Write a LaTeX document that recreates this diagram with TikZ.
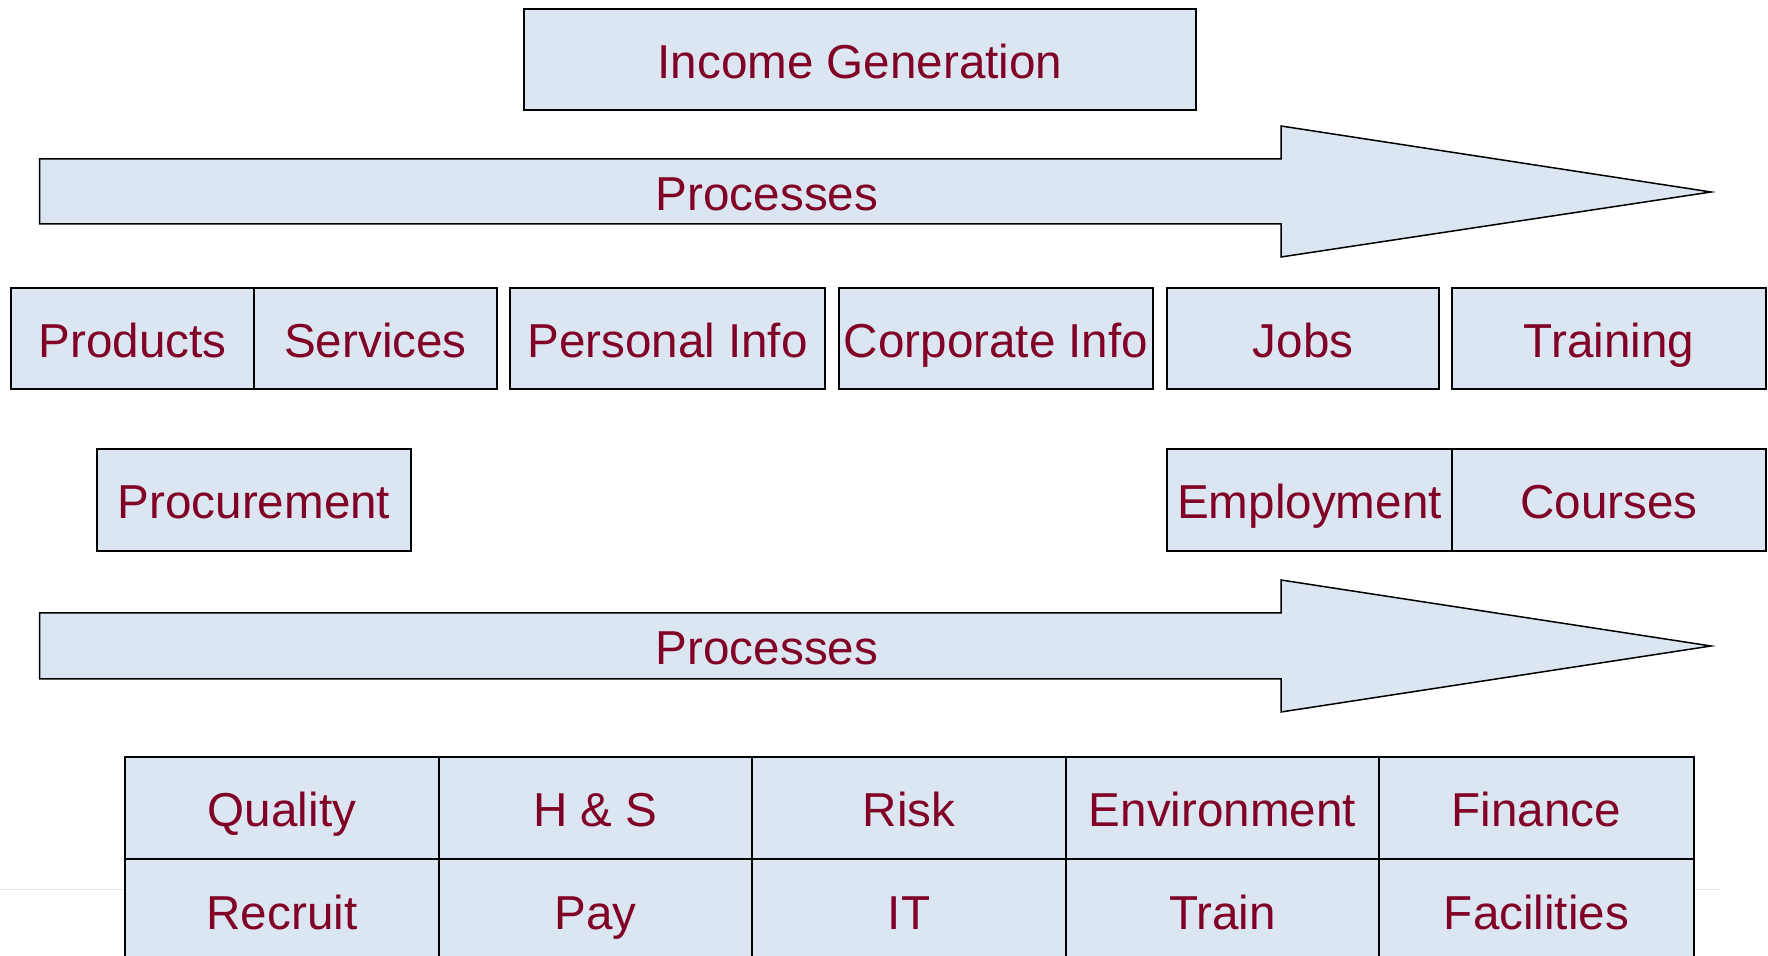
\documentclass[tikz,border=0pt]{standalone}
\usepackage{fontspec}
\setmainfont{Liberation Sans}
\definecolor{boxfill}{HTML}{DCE6F2}
\definecolor{txtred}{HTML}{800026}
\newcommand\cellbox[6]{\node[cell, minimum width={(#4-#2)*0.5pt}, minimum height={(#5-#3)*0.5pt}] (#1) at ({(#2+#4)/2},{(#3+#5)/2}) {#6};}
\begin{document}
\begin{tikzpicture}[x=0.5pt,y=-0.5pt,
  cell/.style={draw=black, line width=0.75pt, fill=boxfill, inner sep=0pt, text=txtred,
    font=\fontsize{23.8pt}{28pt}\selectfont, text height=19pt, text depth=0pt},
  bigarrow/.style={draw=black, line width=0.75pt, fill=boxfill, line join=miter},
  arrowlabel/.style={inner sep=0pt, text=txtred, font=\fontsize{23.8pt}{28pt}\selectfont, text height=19pt, text depth=0pt}]
\clip (0,0) rectangle (1768,956);
\fill[white] (0,0) rectangle (1768,956);
% faint footer line
\coordinate (fl) at (0,889);
\coordinate (fr) at (1720,889);
\draw[gray!18, line width=0.5pt] (fl) -- (fr);
% top box
\cellbox{inc}{524}{9}{1196}{110}{Income Generation}
% arrow 1
\draw[bigarrow] (39.5,159) -- (1281,159) -- (1281,126) -- (1711,192) -- (1281,257) -- (1281,224) -- (39.5,224) -- cycle;
\node[arrowlabel] (proc1) at (767,191.5) {Processes};
% row 1
\cellbox{prod}{11}{288}{254}{389}{Products}
\cellbox{serv}{254}{288}{497}{389}{Services}
\cellbox{pers}{510}{288}{825}{389}{Personal Info}
\cellbox{corp}{839}{288}{1153}{389}{Corporate Info}
\cellbox{jobs}{1167}{288}{1439}{389}{Jobs}
\cellbox{trai}{1452}{288}{1766}{389}{Training}
% row 2
\cellbox{procu}{97}{449}{411}{551}{Procurement}
\cellbox{empl}{1167}{449}{1452}{551}{Employment}
\cellbox{cour}{1452}{449}{1766}{551}{Courses}
% arrow 2
\draw[bigarrow] (39.5,613) -- (1281,613) -- (1281,580) -- (1711,646) -- (1281,712) -- (1281,679) -- (39.5,679) -- cycle;
\node[arrowlabel] (proc2) at (767,646) {Processes};
% grid
\cellbox{qual}{125}{757}{439}{859}{Quality}
\cellbox{hs}{439}{757}{752}{859}{H \& S}
\cellbox{risk}{752}{757}{1066}{859}{Risk}
\cellbox{envi}{1066}{757}{1379}{859}{Environment}
\cellbox{fina}{1379}{757}{1694}{859}{Finance}
\cellbox{recr}{125}{859}{439}{961}{Recruit}
\cellbox{pay}{439}{859}{752}{961}{Pay}
\cellbox{it}{752}{859}{1066}{961}{IT}
\cellbox{trn}{1066}{859}{1379}{961}{Train}
\cellbox{faci}{1379}{859}{1694}{961}{Facilities}
\end{tikzpicture}
\end{document}
